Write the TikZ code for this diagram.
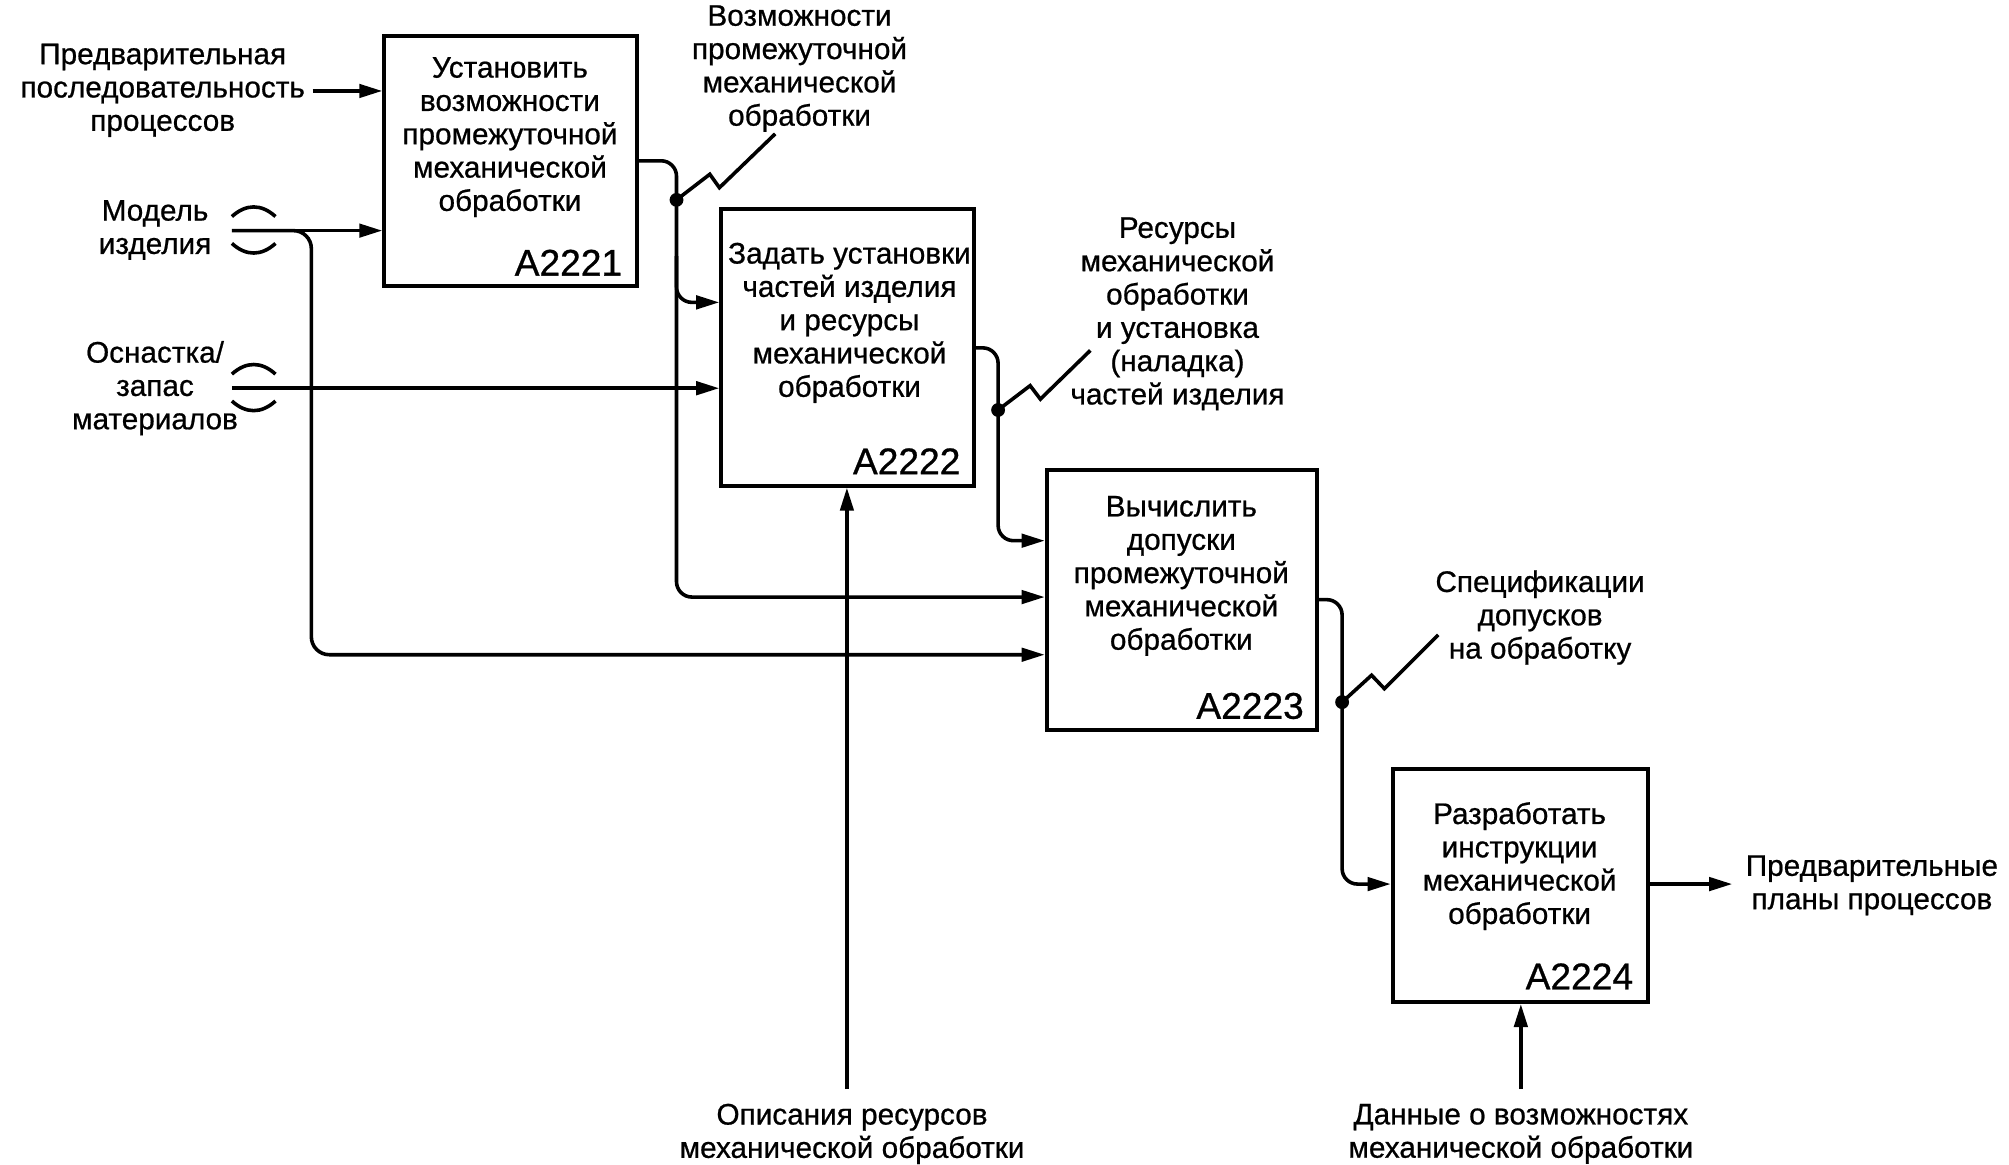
\documentclass[tikz,border=0pt]{standalone}
\usepackage{fontspec}
\setmainfont{Liberation Sans}[FakeBold=0.7]
\usetikzlibrary{arrows.meta}
\newcommand\lblfont{\fontsize{11.6}{13}\selectfont}
\newcommand\idfont{\fontsize{14.5}{16}\selectfont}
\begin{document}
\begin{tikzpicture}[x=0.5pt,y=-0.5pt,
  box/.style={draw, line width=1.6pt, inner sep=0pt},
  flow/.style={line width=1.4pt},
  arr/.style={flow, -{Triangle[length=9pt,width=5.2pt]}},
  rnd/.style={rounded corners=6pt},
  lbl/.style={font=\lblfont, align=center, inner sep=0pt},
  idl/.style={font=\idfont, inner sep=0pt, anchor=east},
  dotc/.style={fill=black, circle, inner sep=0pt, minimum size=5.4pt},
  tun/.style={line width=1.4pt}
]
\fill[white] (0,0) rectangle (1568,909);
\useasboundingbox (0,0) rectangle (1568,909);

% boxes
\node[box, minimum width=98.5pt, minimum height=97.5pt] (b1) at (398.5,125.5) {};
\node[box, minimum width=98.5pt, minimum height=108pt] (b2) at (661.5,271) {};
\node[box, minimum width=105.5pt, minimum height=101.5pt] (b3) at (922.5,468.5) {};
\node[box, minimum width=99.5pt, minimum height=91pt] (b4) at (1186.5,691) {};

% box texts
\node[lbl] (t1) at (398,107) {Установить\\возможности\\промежуточной\\механической\\обработки};
\node[idl] (id1) at (486,205) {A2221};
\node[lbl] (t2) at (663,252) {Задать установки\\частей изделия\\и ресурсы\\механической\\обработки};
\node[idl] (id2) at (750,360) {A2222};
\node[lbl] (t3) at (922,449.5) {Вычислить\\допуски\\промежуточной\\механической\\обработки};
\node[idl] (id3) at (1018,551) {A2223};
\node[lbl] (t4) at (1186,676) {Разработать\\инструкции\\механической\\обработки};
\node[idl] (id4) at (1275,762) {A2224};

% external labels
\node[lbl] (L1) at (127,70.5) {Предварительная\\последовательность\\процессов};
\node[lbl] (L2) at (121,179.5) {Модель\\изделия};
\node[lbl] (L3) at (121,303) {Оснастка/\\запас\\материалов};
\node[lbl] (L4) at (624,53.5) {Возможности\\промежуточной\\механической\\обработки};
\node[lbl] (L5) at (919,245) {Ресурсы\\механической\\обработки\\и установка\\(наладка)\\частей изделия};
\node[lbl] (L6) at (1202,482) {Спецификации\\допусков\\на обработку};
\node[lbl] (L7) at (1461,691) {Предварительные\\планы процессов};
\node[lbl] (L8) at (665,885) {Описания ресурсов\\механической обработки};
\node[lbl] (L9) at (1187,885) {Данные о возможностях\\механической обработки};

% coordinates
\coordinate (p1) at (244,71);
\coordinate (m0) at (181,180);
\coordinate (o0) at (181,303);
\coordinate (c1) at (661,850);
\coordinate (c2) at (1187,850);
\coordinate (r4) at (1352,690);

% inputs
\draw[arr] (p1) -- (b1.west |- p1);
\draw[arr] (m0) -- (b1.west |- m0);
\draw[arr, rounded corners=7pt] (m0) -- (243,180) -- (243,511) -- (b3.west |- 0,511);
\draw[arr] (o0) -- (b2.west |- o0);

% tunnels
\foreach \yy in {180,303}{
  \draw[tun] (181,\yy-11) .. controls (192,\yy-21) and (204,\yy-21) .. (215,\yy-11);
  \draw[tun] (181,\yy+10) .. controls (192,\yy+20) and (204,\yy+20) .. (215,\yy+10);
}

% A2221 output
\draw[arr, rnd] (b1.east |- 0,125.5) -- (528,125.5) -- (528,466) -- (b3.west |- 0,466);
\draw[arr, rnd] (528,200) -- (528,236) -- (b2.west |- 0,236);
\node[dotc] (d1) at (528,156) {};
\draw[flow] (d1.center) -- ++(26,-20) -- ++(7.5,10.5) -- ++(43.5,-42);

% A2222 output
\draw[arr, rnd] (b2.east |- 0,271.5) -- (779,271.5) -- (779,422) -- (b3.west |- 0,422);
\node[dotc] (d2) at (779,320) {};
\draw[flow] (d2.center) -- ++(25,-19) -- ++(8,10.5) -- ++(39,-38);

% A2223 output
\draw[arr, rnd] (b3.east |- 0,468) -- (1047.5,468) -- (1047.5,690) -- (b4.west |- 0,690);
\node[dotc] (d3) at (1047.5,548) {};
\draw[flow] (d3.center) -- ++(23,-21) -- ++(10,10.5) -- ++(42,-42);

% A2224 output
\draw[arr] (b4.east |- r4) -- (r4);

% controls
\draw[arr] (c1) -- (c1 |- b2.south);
\draw[arr] (c2) -- (c2 |- b4.south);
\end{tikzpicture}
\end{document}
